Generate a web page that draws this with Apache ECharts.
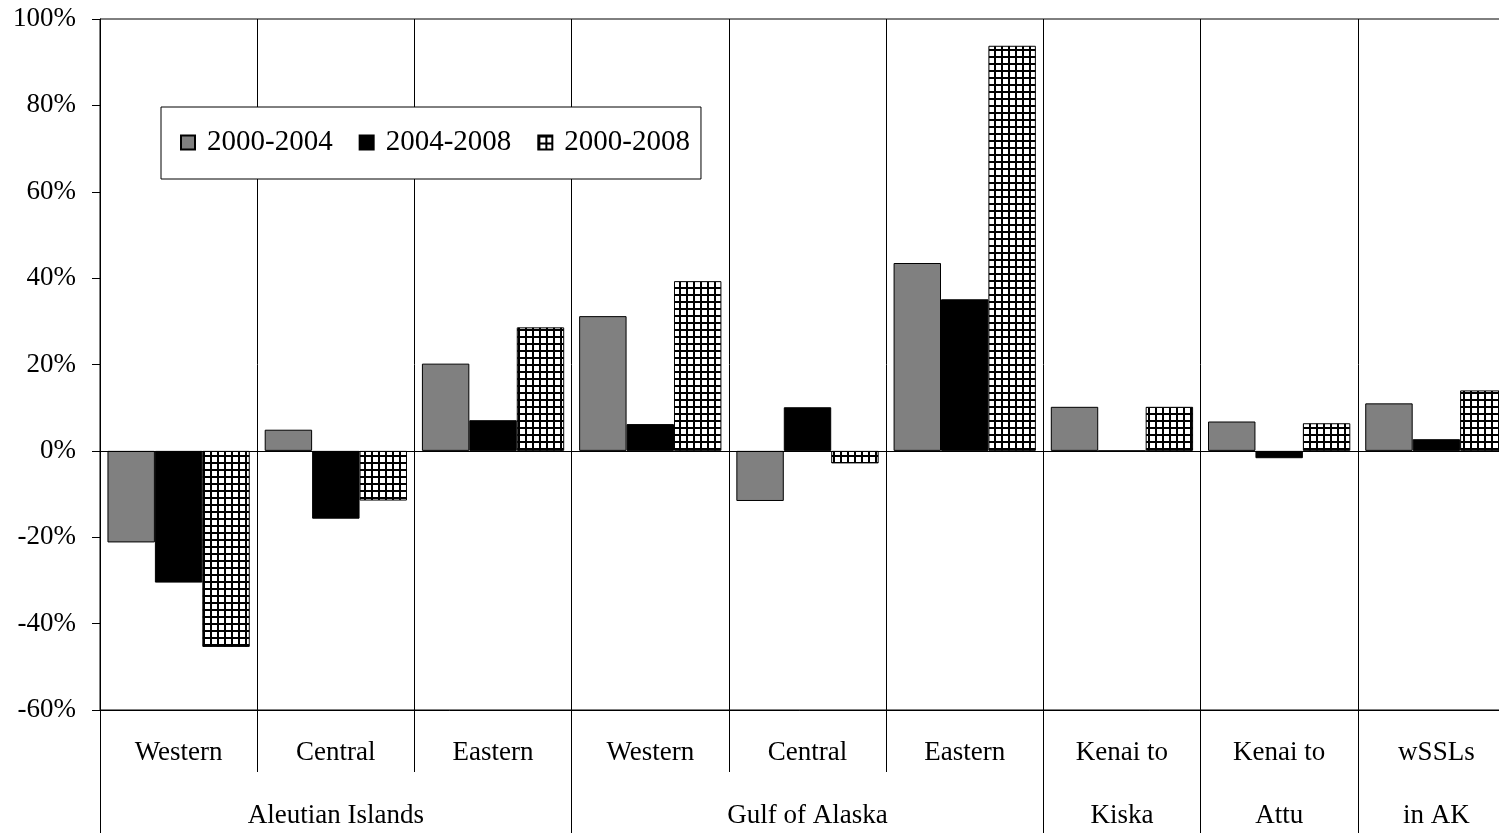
<!DOCTYPE html>
<html>
<head>
<meta charset="utf-8">
<style>
html,body{margin:0;padding:0;background:#fff;overflow:hidden;}
#chart{width:1499px;height:833px;}
</style>
<script src="https://cdn.jsdelivr.net/npm/echarts@6/dist/echarts.min.js"></script>
</head>
<body>
<div id="chart"></div>
<script>
// ---- data ----
const subLabels = ['Western','Central','Eastern','Western','Central','Eastern','Kenai to','Kenai to','wSSLs'];
const groupLabels = ['','Aleutian Islands','','','Gulf of Alaska','','Kiska','Attu','in AK'];
const groupStarts = [0,3,6,7,8];
const seriesNames = ['2000-2004','2004-2008','2000-2008'];
const s2000_2004 = [-21.2, 4.9, 20.2, 31.2, -11.6, 43.5, 10.2, 6.8, 11.0];
const s2004_2008 = [-30.5, -15.7, 7.1, 6.2, 10.1, 35.1, 0, -1.7, 2.7];
const s2000_2008 = [-45.4, -11.5, 28.6, 39.3, -2.9, 93.8, 10.2, 6.4, 14.0];
const yTicks = {min:-60, max:100, interval:20};

// ---- hatch pattern ----
function makeHatch(){
  const c = document.createElement('canvas');
  c.width = 7; c.height = 7;
  const g = c.getContext('2d');
  g.fillStyle = '#fff'; g.fillRect(0,0,7,7);
  g.fillStyle = '#000';
  g.fillRect(0,0,7,2);
  g.fillRect(0,0,2,7);
  return c;
}
const hatch = {image: makeHatch(), repeat: 'repeat'};

const font = 'Liberation Serif';
const cats = subLabels.map((s,i)=> groupLabels[i] ? s + '\n' + groupLabels[i] : s);

const chart = echarts.init(document.getElementById('chart'), null, {renderer:'canvas'});
const barStyle = (color) => ({color: color, borderColor:'#000', borderWidth:1});

chart.setOption({
  animation:false,
  backgroundColor:'#fff',
  grid:{left:100, top:19, width:1415, height:691, outerBoundsMode:'none', containLabel:false,
        show:true, borderColor:'#000', borderWidth:1, backgroundColor:'transparent'},
  legend:{
    left:161, top:107,
    data: seriesNames,
    icon:'rect',
    backgroundColor:'#fff', borderColor:'#000', borderWidth:1,
    padding:[21,11,22,19],
    itemWidth:14, itemHeight:14, itemGap:26,
    textStyle:{fontFamily:font, fontSize:29, color:'#000', padding:[0,0,0,7]}
  },
  xAxis:[{
    type:'category', data:cats, position:'bottom',
    axisLine:{show:true, onZero:false, lineStyle:{color:'#000', width:1}},
    axisTick:{show:true, interval:0, length:62, lineStyle:{color:'#000', width:1}},
    axisLabel:{interval:0, margin:11, fontFamily:font, fontSize:27, color:'#000', lineHeight:63},
    splitLine:{show:true, interval:0, lineStyle:{color:'#000', width:1}}
  },{
    type:'category', data:cats, position:'bottom', gridIndex:0,
    axisLine:{show:false, onZero:false},
    axisTick:{show:true, length:123, interval:function(i){return groupStarts.indexOf(i)>=0;}, lineStyle:{color:'#000', width:1}},
    axisLabel:{show:false},
    splitLine:{show:false}
  }],
  yAxis:{
    type:'value', min:yTicks.min, max:yTicks.max, interval:yTicks.interval,
    axisLine:{show:true, lineStyle:{color:'#000', width:1}},
    axisTick:{show:true, length:8, lineStyle:{color:'#000', width:1}},
    axisLabel:{formatter:'{value}%', margin:24, fontFamily:font, fontSize:27, color:'#000'},
    splitLine:{show:false}
  },
  series:[{
    name:seriesNames[0], type:'bar', data:s2000_2004, xAxisIndex:0,
    barGap:'0%', barCategoryGap:'9.5%',
    itemStyle:barStyle('#808080'),
    markLine:{silent:true, symbol:'none', label:{show:false}, lineStyle:{color:'#000', width:1, type:'solid'}, data:[{yAxis:0}]}
  },{
    name:seriesNames[1], type:'bar', data:s2004_2008, xAxisIndex:0,
    barGap:'0%', barCategoryGap:'9.5%',
    itemStyle:barStyle('#000')
  },{
    name:seriesNames[2], type:'bar', data:s2000_2008, xAxisIndex:0,
    barGap:'0%', barCategoryGap:'9.5%',
    itemStyle:barStyle(hatch)
  }]
});
</script>
</body>
</html>
